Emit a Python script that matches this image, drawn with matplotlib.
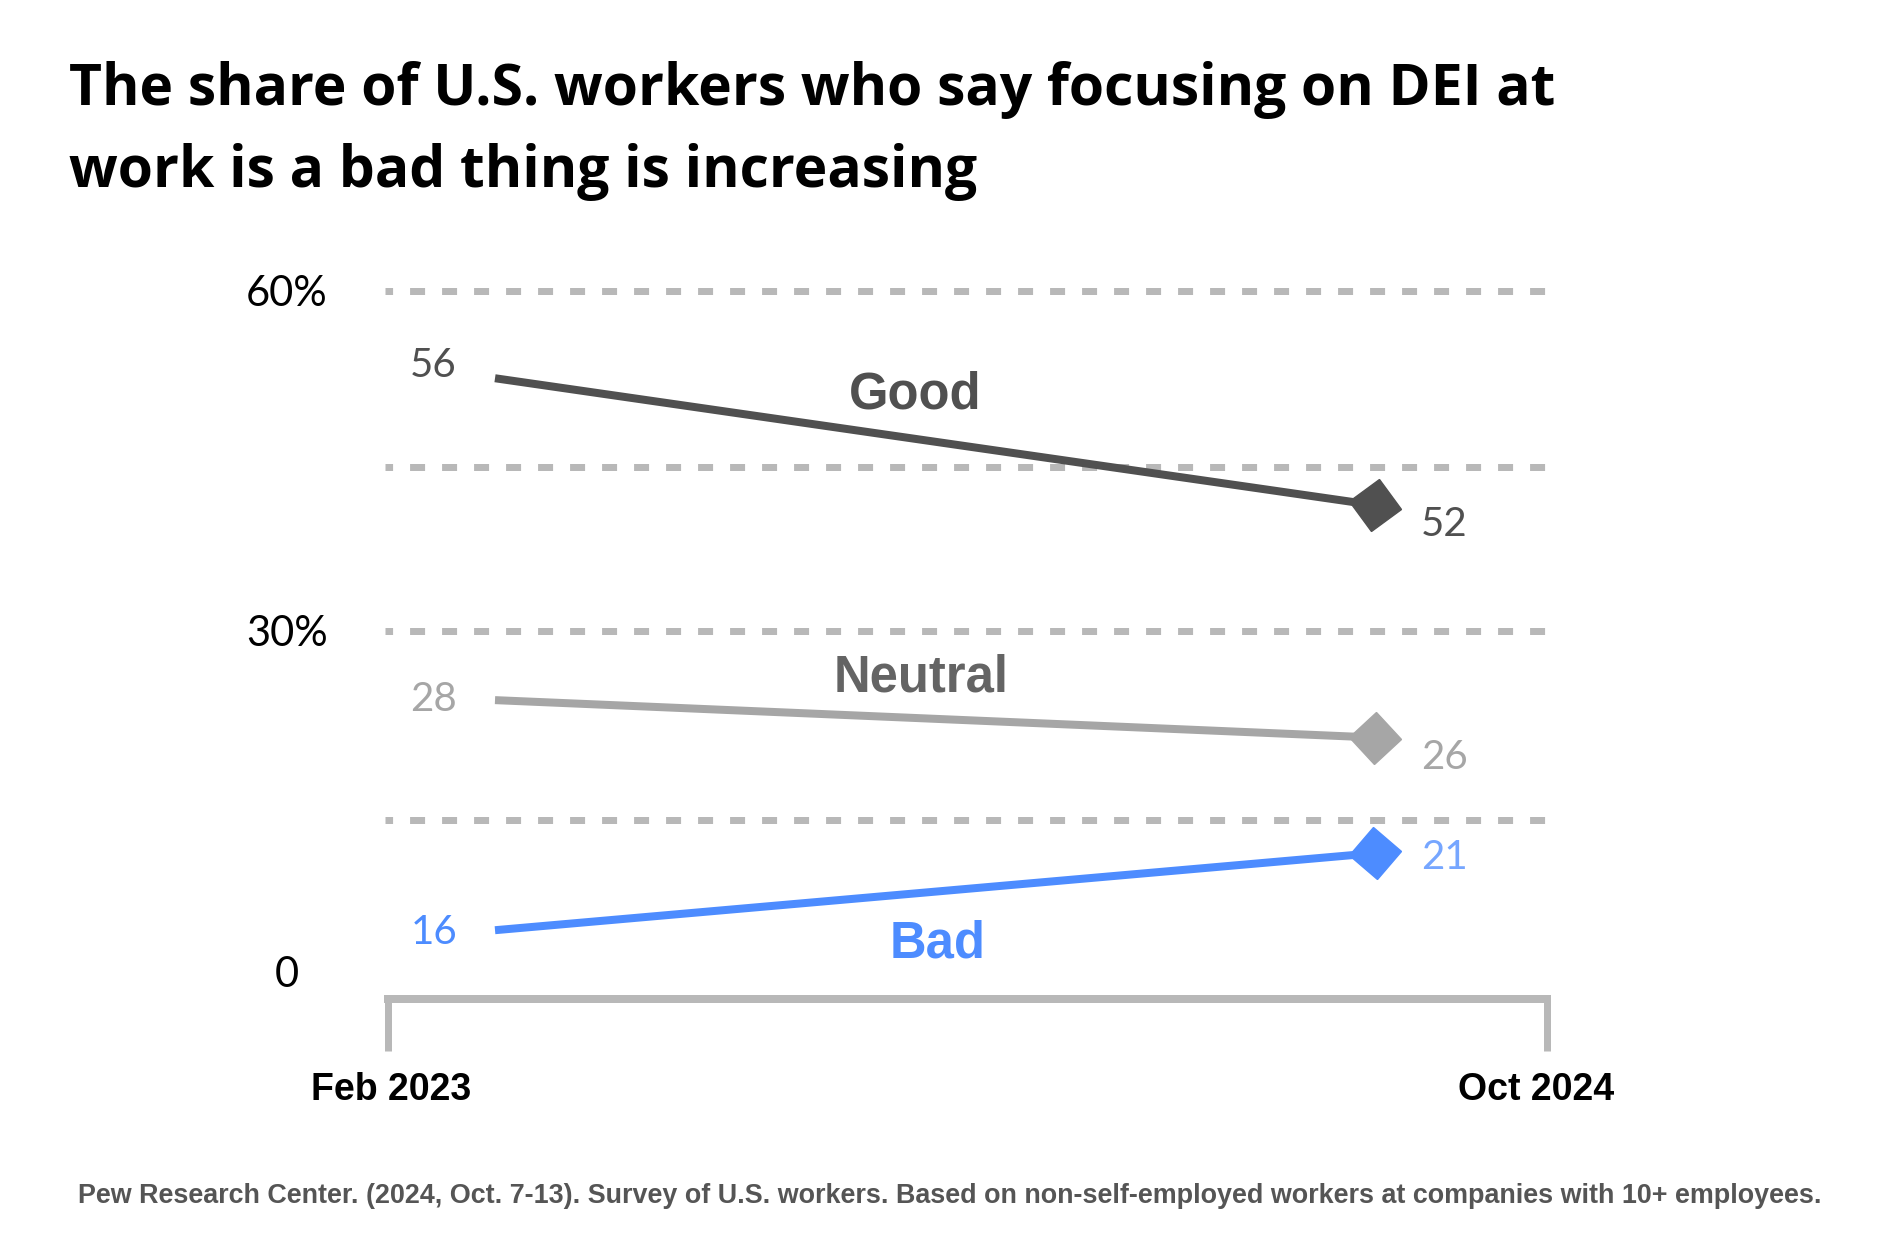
import numpy as np
import matplotlib
matplotlib.use("Agg")
import matplotlib.pyplot as plt
from matplotlib.markers import MarkerStyle
from matplotlib.transforms import Affine2D, blended_transform_factory

# ---- data ----
periods = ["Feb 2023", "Oct 2024"]
series_names = ["Good", "Neutral", "Bad"]
# labelled values
good_values = [56, 52]
neutral_values = [28, 26]
bad_values = [16, 21]
# where the lines sit on the drawn % axis
good_pos = [52.3, 41.1]
neutral_pos = [23.9, 20.6]
bad_pos = [3.6, 10.4]
grid_levels = [60, 44.5, 30, 13.3]
ytick_values = [0, 30, 60]
ytick_labels = ["0", "30%", "60%"]

title_lines = ["The share of U.S. workers who say focusing on DEI at",
               "work is a bad thing is increasing"]
source = ("Pew Research Center. (2024, Oct. 7-13). Survey of U.S. workers. "
          "Based on non-self-employed workers at companies with 10+ employees.")

# ---- styling ----
W, H = 1894, 1258
PX = 0.72  # px -> pt at dpi 100
GRID_C = "#b8b8b8"
line_colors = ["#505050", "#a6a6a6", "#4d8cff"]
name_colors = ["#505050", "#646464", "#4d8cff"]
start_label_colors = ["#505050", "#a6a6a6", "#4d8cff"]
end_label_colors = ["#505050", "#a6a6a6", "#76a6ff"]
# label offsets in px (start dy, end dy)
start_dy = [13, 1, -2]
end_dy = [-19, -20, -4]
# series name placement (data coords)
name_xy = [(0.477, 50.85), (0.484, 25.85), (0.503, 2.37)]
# period label centres (axes fraction)
period_x = [0.0026, 0.9905]

NUM_FONT = "Lato"
BOLD_FONT = "Liberation Sans"

fig = plt.figure(figsize=(W / 100, H / 100), dpi=100)
top_px, bot_px, left_px, right_px = 268.3, 999, 388, 1547
ax = fig.add_axes([left_px / W, 1 - bot_px / H,
                   (right_px - left_px) / W, (bot_px - top_px) / H])

x = np.arange(len(periods))
xlo, xhi = -0.1216, 1.1955
ax.set_xlim(xlo, xhi)
ax.set_ylim(-2.47, 62)

# dashed reference lines
ax.hlines(grid_levels, -0.003, 1.003, transform=ax.get_yaxis_transform(),
          colors=GRID_C, linewidth=7 * PX,
          linestyles=[(1.06, (15 / 7, 17 / 7))], clip_on=False, zorder=1)

# bracket axis
for s in ["top", "left", "right"]:
    ax.spines[s].set_visible(False)
ax.spines["bottom"].set_color(GRID_C)
ax.spines["bottom"].set_linewidth(8 * PX)
ax.spines["bottom"].set_capstyle("projecting")
ax.set_xticks([xlo, xhi])
ax.set_xticklabels([])
ax.tick_params(axis="x", length=52 * PX, width=7 * PX, color=GRID_C,
               direction="out")
lab_tr = blended_transform_factory(ax.transAxes, fig.transFigure)
for px_, lab in zip(period_x, periods):
    ax.text(px_, 1 - 1090 / H, lab, transform=lab_tr, ha="center", va="center",
            fontfamily=BOLD_FONT, fontweight="bold", fontsize=27, color="black")

ax.set_yticks(ytick_values)
ax.set_yticklabels(ytick_labels, fontfamily=NUM_FONT, fontsize=30, ha="center")
ax.tick_params(axis="y", length=0, pad=101 * PX)

all_values = [good_values, neutral_values, bad_values]
all_pos = [good_pos, neutral_pos, bad_pos]

for i, name in enumerate(series_names):
    vals, pos = all_values[i], all_pos[i]
    ax.plot(x, pos, color=line_colors[i], linewidth=8 * PX,
            solid_capstyle="butt", zorder=3)
    # diamond turned with the line
    p = ax.transData.transform(np.column_stack([x, pos]))
    ang = np.degrees(np.arctan2(p[1, 1] - p[0, 1], p[1, 0] - p[0, 0]))
    mk = MarkerStyle("D", transform=Affine2D().rotate_deg(ang))
    ax.plot(x[-1], pos[-1], marker=mk, markersize=27, color=line_colors[i],
            linestyle="none", zorder=4)

    ax.annotate(str(vals[0]), (x[0], pos[0]), xytext=(-38 * PX, start_dy[i] * PX),
                textcoords="offset points", ha="right", va="center",
                fontfamily=NUM_FONT, fontsize=29, color=start_label_colors[i])
    ax.annotate(str(vals[-1]), (x[-1], pos[-1]), xytext=(46 * PX, end_dy[i] * PX),
                textcoords="offset points", ha="left", va="center",
                fontfamily=NUM_FONT, fontsize=29, color=end_label_colors[i])

    ax.text(name_xy[i][0], name_xy[i][1], name, ha="center", va="center",
            fontfamily=BOLD_FONT, fontweight="bold", fontsize=36.5,
            color=name_colors[i])

# title and source
fig.text(69 / W, 1 - 105 / H, title_lines[0], fontfamily="Open Sans",
         fontweight="bold", fontsize=41, va="baseline", color="black")
fig.text(69 / W, 1 - 187 / H, title_lines[1], fontfamily="Open Sans",
         fontweight="bold", fontsize=41, va="baseline", color="black")
fig.text(78 / W, 1 - 1196 / H, source, fontfamily=BOLD_FONT,
         fontweight="bold", fontsize=19.4, va="center", color="#555555")

fig.savefig("out.png", dpi=100, facecolor="white")
